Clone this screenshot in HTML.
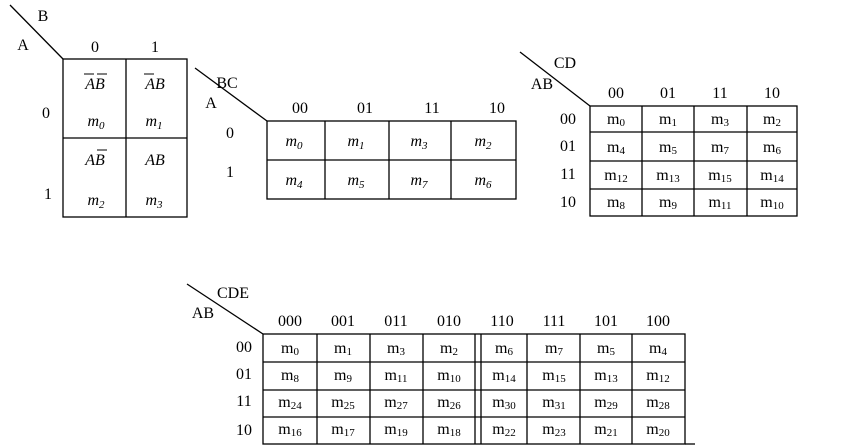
<!DOCTYPE html>
<html><head><meta charset="utf-8"><style>
html,body{margin:0;padding:0;background:#fff;}
svg{display:block;}
text{font-family:"Liberation Serif",serif;fill:#000;}
.h{font-size:16px;text-anchor:middle;}
.mi{font-size:16px;font-style:italic;text-anchor:middle;}
.m{font-size:16px;text-anchor:middle;}
.s{font-size:11px;}
</style></head><body>
<svg width="846" height="448" viewBox="0 0 846 448" stroke="#000" fill="none" stroke-width="1.3">
<!-- Map 1 -->
<line x1="10" y1="5" x2="63" y2="59"/>
<rect x="63" y="59" width="124" height="158"/>
<line x1="126" y1="59" x2="126" y2="217"/>
<line x1="63" y1="138" x2="187" y2="138"/>
<g stroke="none">
<text class="h" x="43" y="21">B</text>
<text class="h" x="23" y="50">A</text>
<text class="h" x="95" y="52">0</text>
<text class="h" x="155" y="52">1</text>
<text class="h" x="46" y="118">0</text>
<text class="h" x="48" y="199">1</text>
<text class="mi" x="95" y="89">AB</text>
<text class="mi" x="155" y="89">AB</text>
<text class="mi" x="95" y="165">AB</text>
<text class="mi" x="155" y="165">AB</text>
<text class="mi" x="96" y="126">m<tspan class="s" dy="3">0</tspan></text>
<text class="mi" x="154" y="126">m<tspan class="s" dy="3">1</tspan></text>
<text class="mi" x="96" y="205">m<tspan class="s" dy="3">2</tspan></text>
<text class="mi" x="154" y="205">m<tspan class="s" dy="3">3</tspan></text>
</g>
<g stroke-width="1">
<line x1="84" y1="74" x2="94" y2="74"/><line x1="97" y1="74" x2="107" y2="74"/>
<line x1="144" y1="74" x2="154" y2="74"/>
<line x1="97" y1="150" x2="107" y2="150"/>
</g>
<!-- Map 2 -->
<line x1="195" y1="68" x2="267" y2="121"/>
<rect x="267" y="121" width="249" height="78"/>
<line x1="267" y1="160" x2="516" y2="160"/>
<line x1="325" y1="121" x2="325" y2="199"/>
<line x1="389" y1="121" x2="389" y2="199"/>
<line x1="451" y1="121" x2="451" y2="199"/>
<g stroke="none">
<text class="h" x="227" y="88">BC</text>
<text class="h" x="211" y="108">A</text>
<text class="h" x="300" y="113">00</text>
<text class="h" x="365" y="113">01</text>
<text class="h" x="432" y="113">11</text>
<text class="h" x="497" y="113">10</text>
<text class="h" x="230" y="138">0</text>
<text class="h" x="230" y="177">1</text>
<text class="mi" x="294" y="146">m<tspan class="s" dy="3">0</tspan></text>
<text class="mi" x="356" y="146">m<tspan class="s" dy="3">1</tspan></text>
<text class="mi" x="419" y="146">m<tspan class="s" dy="3">3</tspan></text>
<text class="mi" x="483" y="146">m<tspan class="s" dy="3">2</tspan></text>
<text class="mi" x="294" y="185">m<tspan class="s" dy="3">4</tspan></text>
<text class="mi" x="356" y="185">m<tspan class="s" dy="3">5</tspan></text>
<text class="mi" x="419" y="185">m<tspan class="s" dy="3">7</tspan></text>
<text class="mi" x="483" y="185">m<tspan class="s" dy="3">6</tspan></text>
</g>
<!-- Map 3 -->
<line x1="520" y1="52" x2="590" y2="106"/>
<rect x="590" y="106" width="207" height="110"/>
<line x1="590" y1="132" x2="797" y2="132"/>
<line x1="590" y1="161" x2="797" y2="161"/>
<line x1="590" y1="189" x2="797" y2="189"/>
<line x1="642" y1="106" x2="642" y2="216"/>
<line x1="694" y1="106" x2="694" y2="216"/>
<line x1="747" y1="106" x2="747" y2="216"/>
<g stroke="none">
<text class="h" x="565" y="68">CD</text>
<text class="h" x="542" y="89">AB</text>
<text class="h" x="616" y="98">00</text>
<text class="h" x="668" y="98">01</text>
<text class="h" x="720" y="98">11</text>
<text class="h" x="772" y="98">10</text>
<text class="h" x="568" y="124">00</text>
<text class="h" x="568" y="151">01</text>
<text class="h" x="568" y="179">11</text>
<text class="h" x="568" y="207">10</text>
<text class="m" x="616" y="124">m<tspan class="s" dy="2">0</tspan></text>
<text class="m" x="668" y="124">m<tspan class="s" dy="2">1</tspan></text>
<text class="m" x="720" y="124">m<tspan class="s" dy="2">3</tspan></text>
<text class="m" x="772" y="124">m<tspan class="s" dy="2">2</tspan></text>
<text class="m" x="616" y="152">m<tspan class="s" dy="2">4</tspan></text>
<text class="m" x="668" y="152">m<tspan class="s" dy="2">5</tspan></text>
<text class="m" x="720" y="152">m<tspan class="s" dy="2">7</tspan></text>
<text class="m" x="772" y="152">m<tspan class="s" dy="2">6</tspan></text>
<text class="m" x="616" y="180">m<tspan class="s" dy="2">12</tspan></text>
<text class="m" x="668" y="180">m<tspan class="s" dy="2">13</tspan></text>
<text class="m" x="720" y="180">m<tspan class="s" dy="2">15</tspan></text>
<text class="m" x="772" y="180">m<tspan class="s" dy="2">14</tspan></text>
<text class="m" x="616" y="207">m<tspan class="s" dy="2">8</tspan></text>
<text class="m" x="668" y="207">m<tspan class="s" dy="2">9</tspan></text>
<text class="m" x="720" y="207">m<tspan class="s" dy="2">11</tspan></text>
<text class="m" x="772" y="207">m<tspan class="s" dy="2">10</tspan></text>
</g>
<!-- Map 4 -->
<line x1="187" y1="284" x2="263" y2="334"/>
<rect x="263" y="334" width="422" height="110"/>
<line x1="263" y1="362" x2="685" y2="362"/>
<line x1="263" y1="390" x2="685" y2="390"/>
<line x1="263" y1="417" x2="685" y2="417"/>
<line x1="317" y1="334" x2="317" y2="444"/>
<line x1="370" y1="334" x2="370" y2="444"/>
<line x1="423" y1="334" x2="423" y2="444"/>
<line x1="475" y1="334" x2="475" y2="444"/>
<line x1="481" y1="334" x2="481" y2="444"/>
<line x1="527" y1="334" x2="527" y2="444"/>
<line x1="580" y1="334" x2="580" y2="444"/>
<line x1="632" y1="334" x2="632" y2="444"/>
<line x1="685" y1="444" x2="695" y2="444"/>
<g stroke="none">
<text class="h" x="233" y="298">CDE</text>
<text class="h" x="203" y="318">AB</text>
<text class="h" x="290" y="326">000</text>
<text class="h" x="343" y="326">001</text>
<text class="h" x="396" y="326">011</text>
<text class="h" x="449" y="326">010</text>
<text class="h" x="502" y="326">110</text>
<text class="h" x="554" y="326">111</text>
<text class="h" x="606" y="326">101</text>
<text class="h" x="658" y="326">100</text>
<text class="h" x="244" y="352">00</text>
<text class="h" x="244" y="379">01</text>
<text class="h" x="244" y="406">11</text>
<text class="h" x="244" y="435">10</text>
</g>
<g stroke="none">
<text class="m" x="290" y="353">m<tspan class="s" dy="2">0</tspan></text>
<text class="m" x="343" y="353">m<tspan class="s" dy="2">1</tspan></text>
<text class="m" x="396" y="353">m<tspan class="s" dy="2">3</tspan></text>
<text class="m" x="449" y="353">m<tspan class="s" dy="2">2</tspan></text>
<text class="m" x="504" y="353">m<tspan class="s" dy="2">6</tspan></text>
<text class="m" x="554" y="353">m<tspan class="s" dy="2">7</tspan></text>
<text class="m" x="606" y="353">m<tspan class="s" dy="2">5</tspan></text>
<text class="m" x="658" y="353">m<tspan class="s" dy="2">4</tspan></text>
<text class="m" x="290" y="380">m<tspan class="s" dy="2">8</tspan></text>
<text class="m" x="343" y="380">m<tspan class="s" dy="2">9</tspan></text>
<text class="m" x="396" y="380">m<tspan class="s" dy="2">11</tspan></text>
<text class="m" x="449" y="380">m<tspan class="s" dy="2">10</tspan></text>
<text class="m" x="504" y="380">m<tspan class="s" dy="2">14</tspan></text>
<text class="m" x="554" y="380">m<tspan class="s" dy="2">15</tspan></text>
<text class="m" x="606" y="380">m<tspan class="s" dy="2">13</tspan></text>
<text class="m" x="658" y="380">m<tspan class="s" dy="2">12</tspan></text>
<text class="m" x="290" y="407">m<tspan class="s" dy="2">24</tspan></text>
<text class="m" x="343" y="407">m<tspan class="s" dy="2">25</tspan></text>
<text class="m" x="396" y="407">m<tspan class="s" dy="2">27</tspan></text>
<text class="m" x="449" y="407">m<tspan class="s" dy="2">26</tspan></text>
<text class="m" x="504" y="407">m<tspan class="s" dy="2">30</tspan></text>
<text class="m" x="554" y="407">m<tspan class="s" dy="2">31</tspan></text>
<text class="m" x="606" y="407">m<tspan class="s" dy="2">29</tspan></text>
<text class="m" x="658" y="407">m<tspan class="s" dy="2">28</tspan></text>
<text class="m" x="290" y="434">m<tspan class="s" dy="2">16</tspan></text>
<text class="m" x="343" y="434">m<tspan class="s" dy="2">17</tspan></text>
<text class="m" x="396" y="434">m<tspan class="s" dy="2">19</tspan></text>
<text class="m" x="449" y="434">m<tspan class="s" dy="2">18</tspan></text>
<text class="m" x="504" y="434">m<tspan class="s" dy="2">22</tspan></text>
<text class="m" x="554" y="434">m<tspan class="s" dy="2">23</tspan></text>
<text class="m" x="606" y="434">m<tspan class="s" dy="2">21</tspan></text>
<text class="m" x="658" y="434">m<tspan class="s" dy="2">20</tspan></text>
</g>
</svg>
</body></html>
